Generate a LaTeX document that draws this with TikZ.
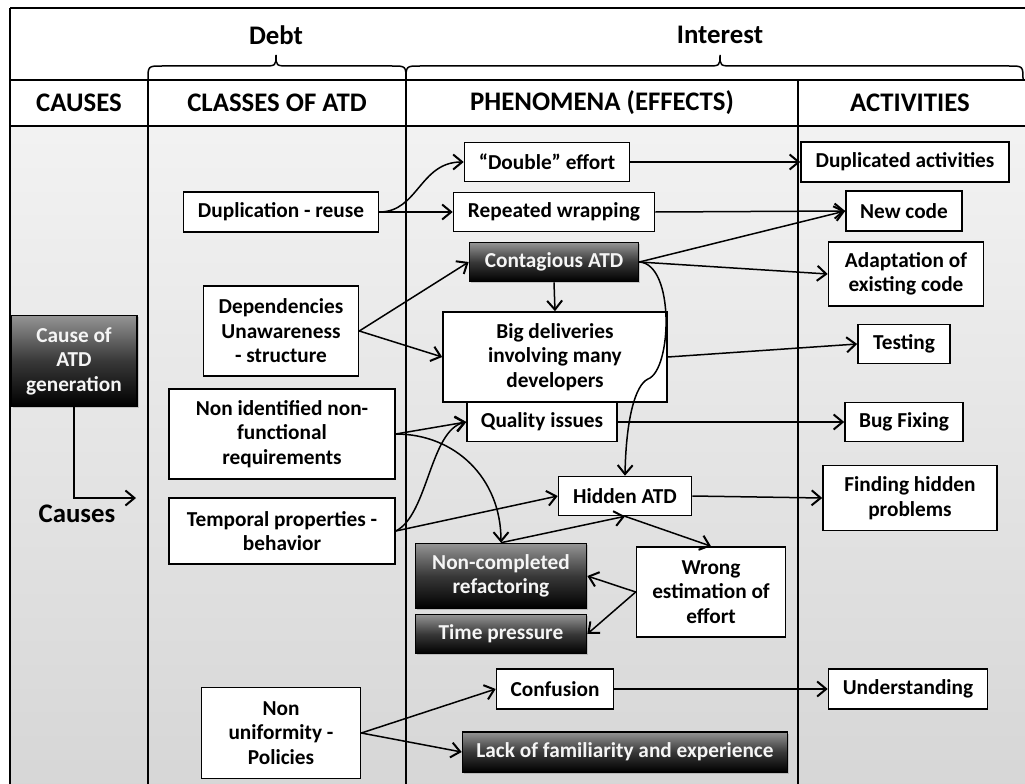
\documentclass[tikz,border=0pt]{standalone}
\usepackage{fontspec}
\setmainfont{Carlito}
\usetikzlibrary{arrows.meta,shadows}
\begin{document}
\begin{tikzpicture}[x=1pt,y=-1pt,
  font=\bfseries\fontsize{21.3}{24.5}\selectfont,
  box/.style={draw, line width=1.6pt, fill=white, align=center, inner sep=0pt},
  darkbox/.style={box, top color=black!42, bottom color=black, middle color=black!78,
    text=gray!8, drop shadow={opacity=0.35, shadow xshift=1.5pt, shadow yshift=-1.5pt}},
  conn/.style={line width=1.5pt, -{Straight Barb[length=9pt,width=15pt,line width=2pt]}},
  hdr/.style={font=\bfseries\fontsize{26.8}{30}\selectfont},
  frame/.style={line width=1.4pt},
  divider/.style={line width=2.2pt},
  bracket/.style={line width=1.5pt},
]
\useasboundingbox (0,0) rectangle (1025,784);

% body background
\shade[top color=gray!10, bottom color=gray!32] (10,126) rectangle (1030,790);

% table frame
\draw[frame] (1030,8) -- (10,8);
\draw[divider] (10,8) -- (10,790);
\draw[frame] (10,80) -- (1030,80);
\draw[frame] (10,126) -- (1030,126);
\draw[divider] (148,80) -- (148,790);
\draw[divider] (406,80) -- (406,790);
\draw[divider] (798,80) -- (798,790);

% braces
\draw[bracket] (148,80) .. controls (148,66) .. (162,66) -- (262,66)
  .. controls (276,66) .. (276,55) .. controls (276,66) .. (290,66) -- (392,66)
  .. controls (406,66) .. (406,80);
\draw[bracket] (406,80) .. controls (406,66) .. (420,66) -- (706,66)
  .. controls (720,66) .. (720,55) .. controls (720,66) .. (734,66) -- (1009,66)
  .. controls (1023,66) .. (1023,80);

% headings
\node[hdr] (hdebt) at (276,35) {Debt};
\node[hdr] (hinterest) at (720,35) {Interest};
\node[hdr] (hcauses) at (79,103) {CAUSES};
\node[hdr] (hclasses) at (277,103) {CLASSES OF ATD};
\node[hdr] (hphen) at (602,103) {PHENOMENA (EFFECTS)};
\node[hdr] (hact) at (910,103) {ACTIVITIES};

% causes column
\node[darkbox, minimum width=126pt, minimum height=91pt] (cause) at (74,361) {Cause of\\ATD\\generation};
\node[hdr] (causes) at (77,514) {Causes};
\coordinate (causesend) at (136,498);

% classes of ATD
\node[box, minimum width=195pt, minimum height=40pt] (dup) at (281,212) {Duplication - reuse};
\node[box, minimum width=155pt, minimum height=90pt] (dep) at (281,331) {Dependencies\\Unawareness\\- structure};
\node[box, minimum width=226pt, minimum height=90pt] (nonid) at (282,434) {Non identified non-\\functional\\requirements};
\node[box, minimum width=226pt, minimum height=66pt] (temp) at (282,531) {Temporal properties -\\behavior};
\node[box, minimum width=159pt, minimum height=91pt] (nonuni) at (281,733) {Non\\uniformity -\\Policies};

% phenomena
\node[box, minimum width=165pt, minimum height=39pt] (double) at (547,162) {“Double” effort};
\node[box, minimum width=201pt, minimum height=39pt] (wrap) at (554,212) {Repeated wrapping};
\node[darkbox, minimum width=169pt, minimum height=39pt] (contag) at (554,262) {Contagious ATD};
\node[box, minimum width=224pt, minimum height=90pt] (big) at (555,357) {Big deliveries\\involving many\\developers};
\node[box, minimum width=150pt, minimum height=39pt] (qual) at (542,422) {Quality issues};
\node[box, minimum width=133pt, minimum height=39pt] (hidden) at (625,496) {Hidden ATD};
\node[darkbox, minimum width=171pt, minimum height=65pt] (noncomp) at (501,576) {Non-completed\\refactoring};
\node[darkbox, minimum width=171pt, minimum height=39pt] (timep) at (501,634) {Time pressure};
\node[box, minimum width=149pt, minimum height=90pt] (wrong) at (711,592) {Wrong\\estimation of\\effort};
\node[box, minimum width=117pt, minimum height=40pt] (confusion) at (555,689) {Confusion};
\node[darkbox, minimum width=325pt, minimum height=40pt] (lack) at (625,752) {Lack of familiarity and experience};

% activities
\node[box, minimum width=208pt, minimum height=40pt] (dupact) at (905,162) {Duplicated activities};
\node[box, minimum width=116pt, minimum height=40pt] (newcode) at (904,211) {New code};
\node[box, minimum width=155pt, minimum height=64pt] (adapt) at (906,274) {Adaptation of\\existing code};
\node[box, minimum width=92pt, minimum height=39pt] (testing) at (904,344) {Testing};
\node[box, minimum width=118pt, minimum height=39pt] (bug) at (904,422) {Bug Fixing};
\node[box, minimum width=174pt, minimum height=65pt] (finding) at (910,498) {Finding hidden\\problems};
\node[box, minimum width=159pt, minimum height=40pt] (underst) at (908,689) {Understanding};

% connectors
\draw[conn] (cause.south) |- (causesend);

\draw[conn] (dup.east) .. controls (418,212) and (420,162) .. (double.west);
\draw[conn] (dup.east) -- (wrap.west);
\draw[conn] (dep.east) -- (contag.west);
\draw[conn] (dep.east) -- (big.west);
\draw[conn] (nonid.east) -- (qual.west);
\draw[conn] (nonid.east) .. controls (455,434) and (501,478) .. (noncomp.north);
\draw[conn] (temp.east) .. controls (428,515) and (430,430) .. (qual.west);
\draw[conn] (temp.east) -- (hidden.west);
\draw[conn] (nonuni.east) -- (confusion.west);
\draw[conn] (nonuni.east) -- (lack.west);

\draw[conn] (contag.south) -- (big.north);
\draw[conn] (contag.east) .. controls (675,264) and (672,370) .. (648,379)
  .. controls (635,385) and (626,420) .. (hidden.north);
\draw[conn] (noncomp.north) -- (hidden.south);
\draw[conn] (hidden.south) -- (wrong.north);
\draw[conn] (wrong.west) -- (noncomp.east);
\draw[conn] (wrong.west) -- (timep.east);

\draw[conn] (double.east) -- (dupact.west);
\draw[conn] (wrap.east) -- (newcode.west);
\draw[conn] (contag.east) -- (newcode.west);
\draw[conn] (contag.east) -- (adapt.west);
\draw[conn] (big.east) -- (testing.west);
\draw[conn] (qual.east) -- (bug.west);
\draw[conn] (hidden.east) -- (finding.west);
\draw[conn] (confusion.east) -- (underst.west);
\end{tikzpicture}
\end{document}
